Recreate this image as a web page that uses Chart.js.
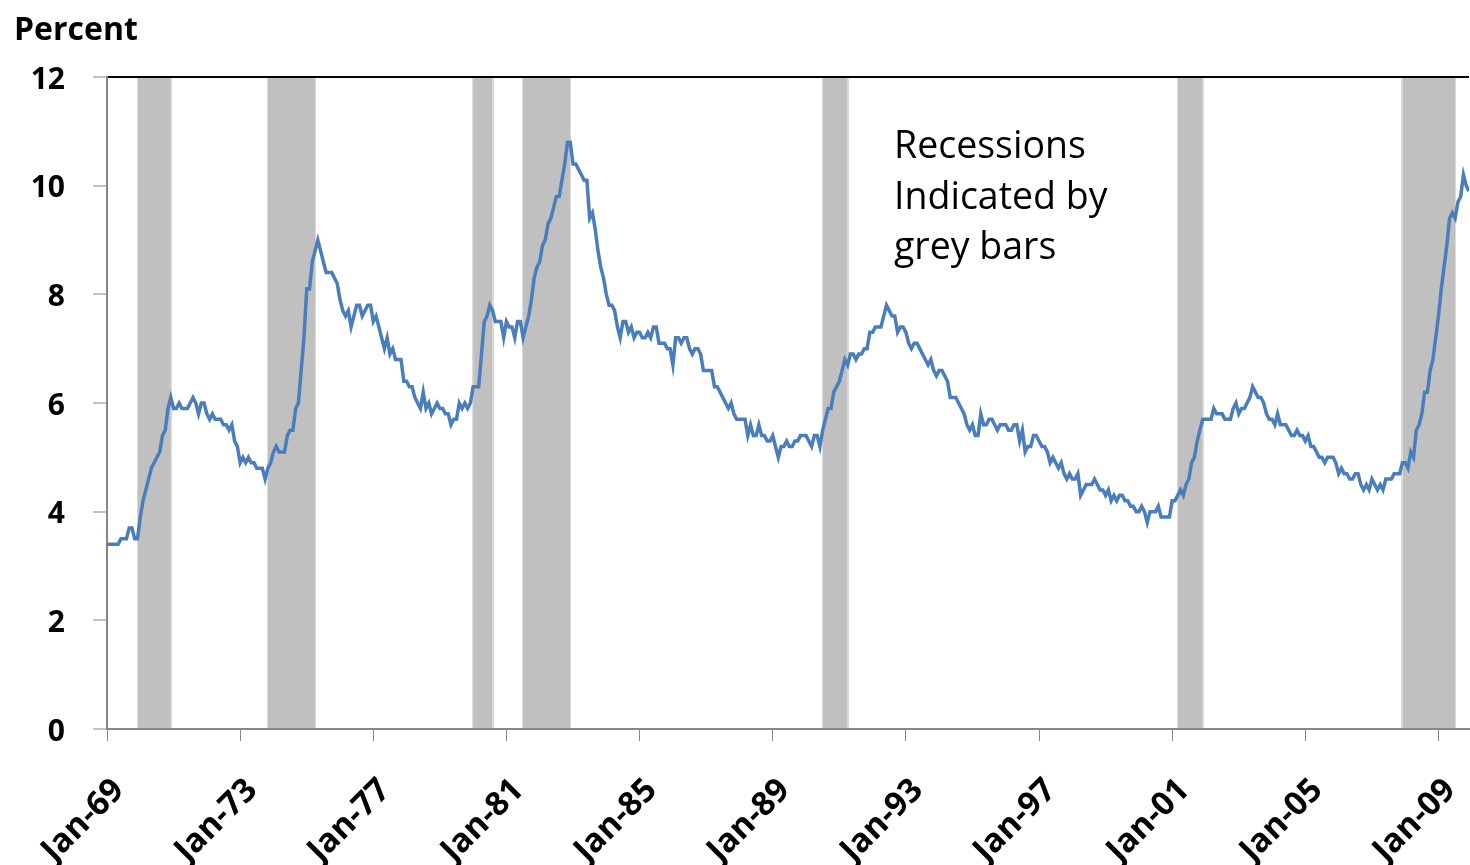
<!DOCTYPE html>
<html>
<head>
<meta charset="utf-8">
<title>Unemployment rate</title>
<script src="https://cdn.jsdelivr.net/npm/chart.js@4/dist/chart.umd.min.js"></script>
<style>
  body { margin: 0; background: #fff; }
  canvas { display: block; }
</style>
</head>
<body>
<canvas id="chart" width="1470" height="865"></canvas>
<script>
// monthly unemployment rate, Jan 1969 .. Dec 2009
const startYear = 1969;
const rate = [
  3.4, 3.4, 3.4, 3.4, 3.4, 3.5, 3.5, 3.5, 3.7, 3.7, 3.5, 3.5,   // 1969
  3.9, 4.2, 4.4, 4.6, 4.8, 4.9, 5.0, 5.1, 5.4, 5.5, 5.9, 6.1,   // 1970
  5.9, 5.9, 6.0, 5.9, 5.9, 5.9, 6.0, 6.1, 6.0, 5.8, 6.0, 6.0,
  5.8, 5.7, 5.8, 5.7, 5.7, 5.7, 5.6, 5.6, 5.5, 5.6, 5.3, 5.2,
  4.9, 5.0, 4.9, 5.0, 4.9, 4.9, 4.8, 4.8, 4.8, 4.6, 4.8, 4.9,
  5.1, 5.2, 5.1, 5.1, 5.1, 5.4, 5.5, 5.5, 5.9, 6.0, 6.6, 7.2,
  8.1, 8.1, 8.6, 8.8, 9.0, 8.8, 8.6, 8.4, 8.4, 8.4, 8.3, 8.2,   // 1975
  7.9, 7.7, 7.6, 7.7, 7.4, 7.6, 7.8, 7.8, 7.6, 7.7, 7.8, 7.8,
  7.5, 7.6, 7.4, 7.2, 7.0, 7.2, 6.9, 7.0, 6.8, 6.8, 6.8, 6.4,
  6.4, 6.3, 6.3, 6.1, 6.0, 5.9, 6.2, 5.9, 6.0, 5.8, 5.9, 6.0,
  5.9, 5.9, 5.8, 5.8, 5.6, 5.7, 5.7, 6.0, 5.9, 6.0, 5.9, 6.0,
  6.3, 6.3, 6.3, 6.9, 7.5, 7.6, 7.8, 7.7, 7.5, 7.5, 7.5, 7.2,   // 1980
  7.5, 7.4, 7.4, 7.2, 7.5, 7.5, 7.2, 7.4, 7.6, 7.9, 8.3, 8.5,
  8.6, 8.9, 9.0, 9.3, 9.4, 9.6, 9.8, 9.8, 10.1, 10.4, 10.8, 10.8,
  10.4, 10.4, 10.3, 10.2, 10.1, 10.1, 9.4, 9.5, 9.2, 8.8, 8.5, 8.3,
  8.0, 7.8, 7.8, 7.7, 7.4, 7.2, 7.5, 7.5, 7.3, 7.4, 7.2, 7.3,
  7.3, 7.2, 7.2, 7.3, 7.2, 7.4, 7.4, 7.1, 7.1, 7.1, 7.0, 7.0,   // 1985
  6.7, 7.2, 7.2, 7.1, 7.2, 7.2, 7.0, 6.9, 7.0, 7.0, 6.9, 6.6,
  6.6, 6.6, 6.6, 6.3, 6.3, 6.2, 6.1, 6.0, 5.9, 6.0, 5.8, 5.7,
  5.7, 5.7, 5.7, 5.4, 5.6, 5.4, 5.4, 5.6, 5.4, 5.4, 5.3, 5.3,
  5.4, 5.2, 5.0, 5.2, 5.2, 5.3, 5.2, 5.2, 5.3, 5.3, 5.4, 5.4,
  5.4, 5.3, 5.2, 5.4, 5.4, 5.2, 5.5, 5.7, 5.9, 5.9, 6.2, 6.3,   // 1990
  6.4, 6.6, 6.8, 6.7, 6.9, 6.9, 6.8, 6.9, 6.9, 7.0, 7.0, 7.3,
  7.3, 7.4, 7.4, 7.4, 7.6, 7.8, 7.7, 7.6, 7.6, 7.3, 7.4, 7.4,
  7.3, 7.1, 7.0, 7.1, 7.1, 7.0, 6.9, 6.8, 6.7, 6.8, 6.6, 6.5,
  6.6, 6.6, 6.5, 6.4, 6.1, 6.1, 6.1, 6.0, 5.9, 5.8, 5.6, 5.5,
  5.6, 5.4, 5.4, 5.8, 5.6, 5.6, 5.7, 5.7, 5.6, 5.5, 5.6, 5.6,   // 1995
  5.6, 5.5, 5.5, 5.6, 5.6, 5.3, 5.5, 5.1, 5.2, 5.2, 5.4, 5.4,
  5.3, 5.2, 5.2, 5.1, 4.9, 5.0, 4.9, 4.8, 4.9, 4.7, 4.6, 4.7,
  4.6, 4.6, 4.7, 4.3, 4.4, 4.5, 4.5, 4.5, 4.6, 4.5, 4.4, 4.4,
  4.3, 4.4, 4.2, 4.3, 4.2, 4.3, 4.3, 4.2, 4.2, 4.1, 4.1, 4.0,
  4.0, 4.1, 4.0, 3.8, 4.0, 4.0, 4.0, 4.1, 3.9, 3.9, 3.9, 3.9,   // 2000
  4.2, 4.2, 4.3, 4.4, 4.3, 4.5, 4.6, 4.9, 5.0, 5.3, 5.5, 5.7,
  5.7, 5.7, 5.7, 5.9, 5.8, 5.8, 5.8, 5.7, 5.7, 5.7, 5.9, 6.0,
  5.8, 5.9, 5.9, 6.0, 6.1, 6.3, 6.2, 6.1, 6.1, 6.0, 5.8, 5.7,
  5.7, 5.6, 5.8, 5.6, 5.6, 5.6, 5.5, 5.4, 5.4, 5.5, 5.4, 5.4,
  5.3, 5.4, 5.2, 5.2, 5.1, 5.0, 5.0, 4.9, 5.0, 5.0, 5.0, 4.9,   // 2005
  4.7, 4.8, 4.7, 4.7, 4.6, 4.6, 4.7, 4.7, 4.5, 4.4, 4.5, 4.4,
  4.6, 4.5, 4.4, 4.5, 4.4, 4.6, 4.6, 4.6, 4.7, 4.7, 4.7, 4.9,
  4.9, 4.8, 5.1, 5.0, 5.5, 5.6, 5.8, 6.2, 6.2, 6.6, 6.8, 7.2,
  7.6, 8.1, 8.5, 8.9, 9.4, 9.5, 9.4, 9.7, 9.8, 10.2, 10.0, 9.9  // 2009
];

const tickLabels = ['Jan-69', 'Jan-73', 'Jan-77', 'Jan-81', 'Jan-85', 'Jan-89',
                    'Jan-93', 'Jan-97', 'Jan-01', 'Jan-05', 'Jan-09'];

// recessions: first and last month (year-month)
const recessionStart = ['1969-12', '1973-11', '1980-01', '1981-07', '1990-07', '2001-03', '2007-12'];
const recessionEnd   = ['1970-11', '1975-03', '1980-07', '1982-11', '1991-03', '2001-11', '2009-06'];

const monthIndex = (s) => {
    const [y, m] = s.split('-').map(Number);
    return (y - startYear) * 12 + (m - 1);
};
const labelMonth = (lab) => {
    let yy = parseInt(lab.slice(4), 10);
    const year = yy >= 60 ? 1900 + yy : 2000 + yy;
    return (year - startYear) * 12;
};
const tickMonths = tickLabels.map(labelMonth);
const points = rate.map((v, i) => ({ x: i, y: v }));

const axisGrey = '#868686';

const recessionBars = {
    id: 'recessionBars',
    beforeDatasetsDraw(chart) {
        const { ctx, chartArea } = chart;
        const xs = chart.scales.x;
        ctx.save();
        recessionStart.forEach((s, i) => {
            const x1 = xs.getPixelForValue(monthIndex(s));
            const x2 = xs.getPixelForValue(monthIndex(recessionEnd[i]) + 1);
            const top = chartArea.top + 1;
            const h = chartArea.bottom - 1 - top;
            ctx.fillStyle = '#c0c0c0';
            ctx.fillRect(x1, top, x2 - x1, h);
            ctx.strokeStyle = '#dadada';
            ctx.lineWidth = 1;
            ctx.beginPath();
            ctx.moveTo(Math.round(x1) - 0.5, top);
            ctx.lineTo(Math.round(x1) - 0.5, top + h);
            ctx.moveTo(Math.round(x2) + 0.5, top);
            ctx.lineTo(Math.round(x2) + 0.5, top + h);
            ctx.stroke();
        });
        ctx.restore();
    }
};

const texts = {
    id: 'texts',
    afterDraw(chart) {
        const ctx = chart.ctx;
        ctx.save();
        ctx.fillStyle = '#000';
        ctx.textAlign = 'left';
        ctx.textBaseline = 'alphabetic';
        ctx.font = 'bold 32px "Open Sans"';
        ctx.fillText('Percent', 14, 40);
        ctx.font = '37.5px "Open Sans"';
        ['Recessions', 'Indicated by', 'grey bars'].forEach((t, i) => {
            ctx.fillText(t, 894, 158 + i * 50.5);
        });
        ctx.restore();
    }
};

new Chart(document.getElementById('chart'), {
    type: 'line',
    data: {
        datasets: [{
            label: 'Unemployment rate',
            data: points,
            borderColor: '#4a7ebb',
            borderWidth: 3.5,
            pointRadius: 0,
            tension: 0,
        }],
    },
    options: {
        responsive: false,
        animation: false,
        layout: { padding: { top: 77, right: 1, left: 0, bottom: 0 } },
        plugins: {
            legend: { display: false },
            tooltip: { enabled: false },
        },
        scales: {
            x: {
                type: 'linear',
                min: 0,
                max: rate.length - 1,
                afterFit: (s) => {
                    s.height = 136;
                    s.paddingLeft = 0;
                    s.paddingRight = 0;
                },
                afterBuildTicks: (s) => { s.ticks = tickMonths.map(v => ({ value: v })); },
                ticks: {
                    autoSkip: false,
                    minRotation: 45,
                    maxRotation: 45,
                    padding: 30,
                    labelOffset: 12,
                    color: '#000',
                    font: { family: 'Open Sans', size: 33, weight: 'bold' },
                    callback: (v) => tickLabels[tickMonths.indexOf(v)],
                },
                grid: {
                    drawOnChartArea: false,
                    tickLength: 12,
                    tickColor: axisGrey,
                    tickWidth: 1,
                },
                border: { color: axisGrey, width: 2 },
            },
            y: {
                min: 0,
                max: 12,
                afterFit: (s) => {
                    s.width = 107;
                    s.paddingTop = 0;
                    s.paddingBottom = 0;
                },
                ticks: {
                    stepSize: 2,
                    padding: 28,
                    labelOffset: 3,
                    color: '#000',
                    font: { family: 'Open Sans', size: 30, weight: 'bold' },
                },
                grid: {
                    color: (c) => (c.tick && c.tick.value === 12 ? '#000' : 'rgba(0,0,0,0)'),
                    lineWidth: 2,
                    tickLength: 14,
                    tickColor: axisGrey,
                    tickWidth: 1,
                },
                border: { color: axisGrey, width: 2 },
            },
        },
    },
    plugins: [recessionBars, texts],
});
</script>
</body>
</html>
